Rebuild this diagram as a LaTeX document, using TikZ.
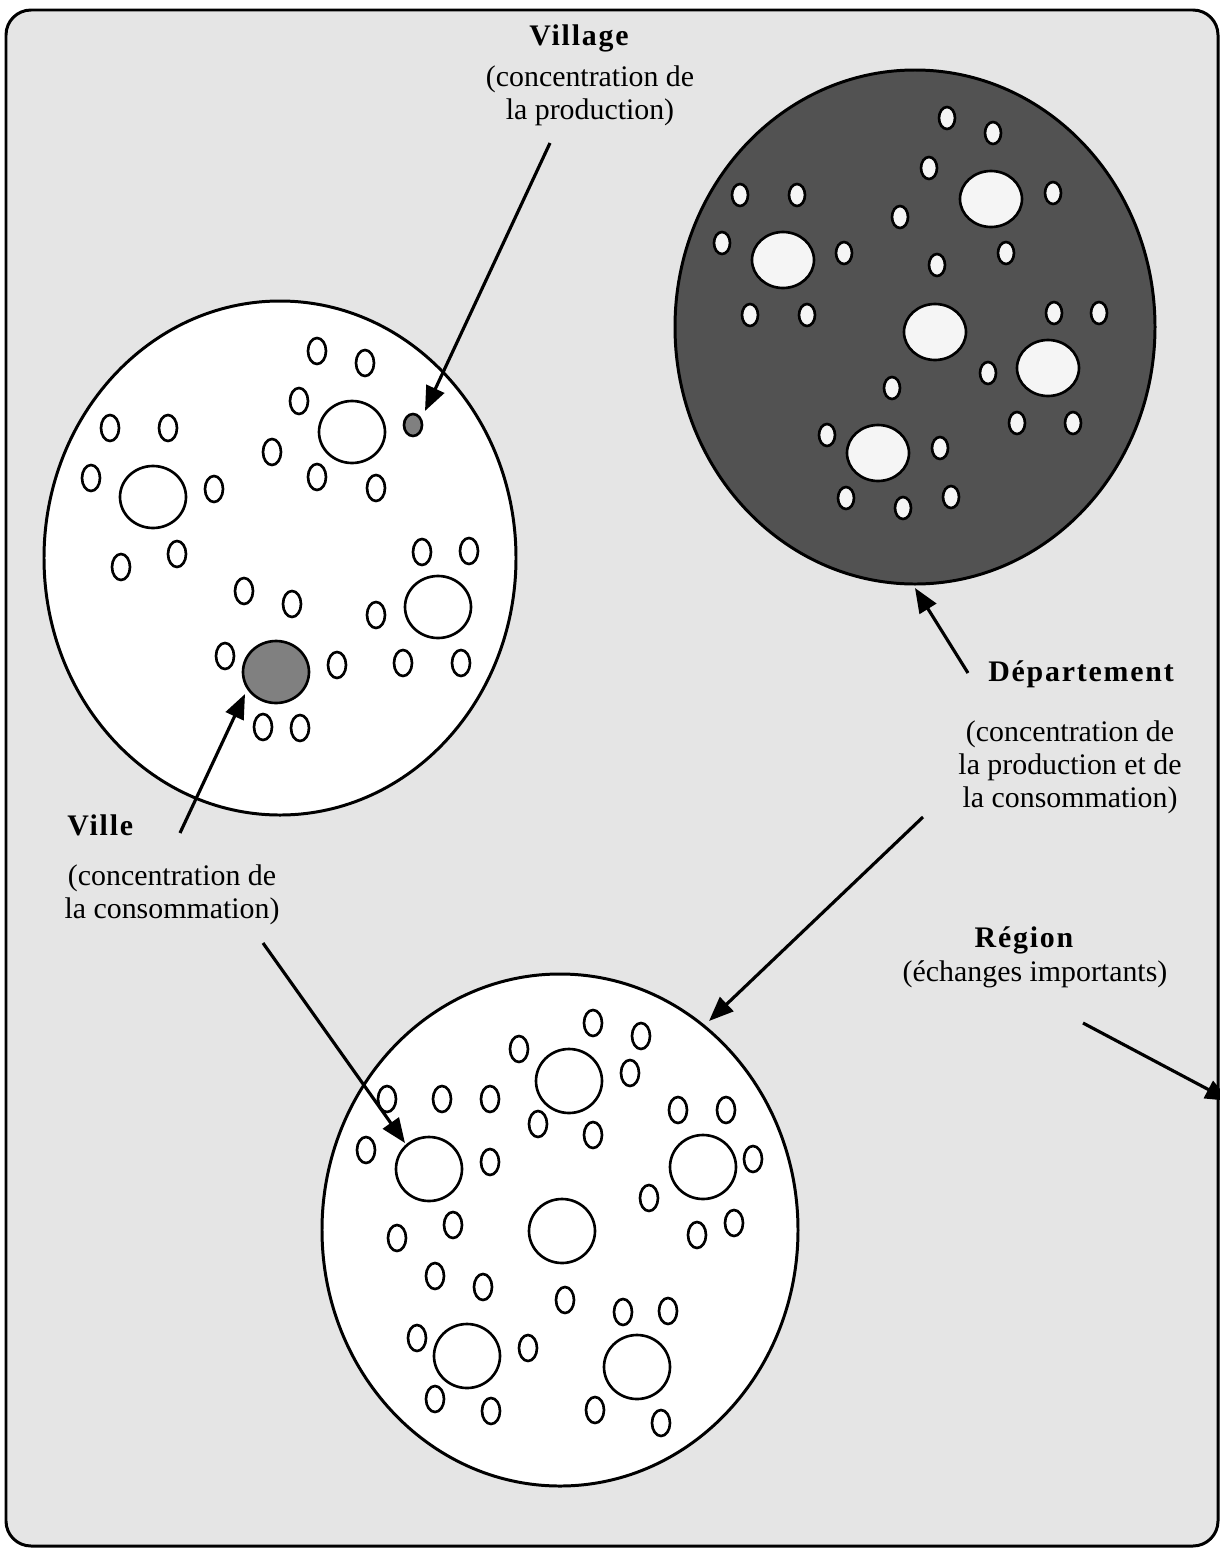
\documentclass[tikz,border=0pt]{standalone}
\usepackage{fontspec}
\setmainfont{Liberation Serif}
\usetikzlibrary{arrows.meta}

\begin{document}
\begin{tikzpicture}[x=0.02cm,y=-0.02cm,
  contour/.style={line width=1.7pt},
  petit/.style={line width=1.5pt,fill=white},
  fleche/.style={line width=1.8pt,-{Triangle[length=14pt,width=11pt]}},
  titre/.style={inner sep=0pt,font=\fontsize{17}{20}\selectfont\bfseries\addfontfeatures{LetterSpace=6}},
  legende/.style={inner sep=0pt,align=center,font=\fontsize{17}{18.7}\selectfont}]
\useasboundingbox (0,0) rectangle (1220,1549);
% frame
\draw[line width=1.7pt,fill=black!10,rounded corners=0.5cm] (6,10) rectangle (1218,1546);

% Left circle: villages and towns
\draw[contour,fill=white] (280,558) ellipse [x radius=236, y radius=257];
\foreach \x/\y in {153/497,352/432,438/607}
  \draw[petit] (\x,\y) ellipse [x radius=33, y radius=31];
\draw[petit,fill=black!50] (276,672) ellipse [x radius=33, y radius=31];
\draw[petit,fill=black!50] (413,425) ellipse [x radius=9, y radius=11];
\foreach \x/\y in {317/351,365/363,299/401,272/452,317/477,376/488,110/428,168/428,
  91/478,214/489,121/567,177/554,244/591,292/604,422/552,469/551,376/615,403/663,
  461/663,225/656,337/665,263/727,300/728}
  \draw[petit] (\x,\y) ellipse [x radius=9, y radius=13];

% Right circle: department
\draw[contour,fill=black!68] (915,327) ellipse [x radius=240, y radius=257];
\foreach \x/\y in {991/199,783/260,935/332,1048/368,878/453}
  \draw[petit,fill=black!4] (\x,\y) ellipse [x radius=31, y radius=28];
\foreach \x/\y in {947/118,993/133,929/168,1053/193,740/195,797/195,900/217,722/243,
  844/253,1006/253,937/265,750/315,807/315,1054/313,1099/313,988/373,892/388,
  1017/423,1073/423,827/435,940/448,846/498,903/508,951/497}
  \draw[petit,fill=black!4] (\x,\y) ellipse [x radius=8, y radius=11];

% Bottom circle: region
\draw[contour,fill=white] (560,1230) ellipse [x radius=238, y radius=256];
\foreach \x/\y in {569/1081,429/1169,703/1167,562/1231,467/1356,637/1367}
  \draw[petit] (\x,\y) ellipse [x radius=33, y radius=32];
\foreach \x/\y in {593/1023,641/1036,519/1049,630/1073,387/1099,442/1099,490/1099,
  678/1110,726/1110,538/1124,593/1135,366/1150,490/1162,753/1159,649/1198,397/1238,
  453/1225,697/1235,734/1223,435/1276,483/1287,565/1300,623/1312,668/1311,417/1338,
  528/1348,435/1399,491/1411,595/1410,661/1423}
  \draw[petit] (\x,\y) ellipse [x radius=9, y radius=13];

% labels
\node[titre] (village) at (579,38) {Village};
\node[legende] (villagetxt) at (590,96) {(concentration de\\la production)};
\node[titre,anchor=west] (ville) at (67,825) {Ville};
\node[legende] (villetxt) at (172,895) {(concentration de\\la consommation)};
\node[titre] (dept) at (1081,674) {Département};
\node[legende] (depttxt) at (1070,767) {(concentration de\\la production et de\\la consommation)};
\node[titre] (region) at (1024,940) {Région};
\node[legende] (regiontxt) at (1035,974) {(échanges importants)};

% arrows
\coordinate (villageA) at (550,143);
\coordinate (villageB) at (425,411);
\coordinate (villeA) at (180,833);
\coordinate (villeB) at (245,694);
\coordinate (villeC) at (263,943);
\coordinate (villeD) at (405,1143);
\coordinate (deptA) at (968,673);
\coordinate (deptB) at (915,588);
\coordinate (deptC) at (923,817);
\coordinate (deptD) at (709,1021);
\coordinate (regionA) at (1083,1023);
\coordinate (regionB) at (1230,1101);
\draw[fleche] (villageA) -- (villageB);
\draw[fleche] (villeA) -- (villeB);
\draw[fleche] (villeC) -- (villeD);
\draw[fleche] (deptA) -- (deptB);
\draw[fleche] (deptC) -- (deptD);
\draw[fleche] (regionA) -- (regionB);
\end{tikzpicture}
\end{document}
